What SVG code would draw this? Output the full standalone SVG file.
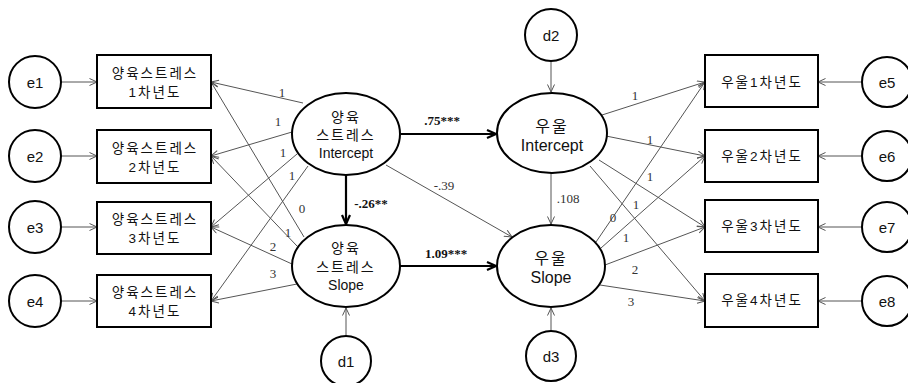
<svg xmlns="http://www.w3.org/2000/svg" width="908" height="383" viewBox="0 0 908 383">
  <style>
    .box { fill: #fff; stroke: #000; stroke-width: 2; }
    .circ { fill: #fff; stroke: #000; stroke-width: 2; }
    .lbl { font-family: "Liberation Sans", "Noto Sans CJK KR", sans-serif; font-size: 13.5px; fill: #111; text-anchor: middle; dominant-baseline: central; }
    .ko { letter-spacing: 2px; }
    .mid { font-size: 14px; }
    .big { font-size: 15px; }
    .bigger { font-size: 16px; }
    .thin { stroke: #555; stroke-width: 1; fill: none; marker-end: url(#arrThin); }
    .thick { stroke: #000; stroke-width: 2.2; fill: none; marker-end: url(#arrThick); }
    .num { font-family: "Liberation Serif", serif; font-size: 13px; fill: #333; text-anchor: middle; dominant-baseline: central; }
    .bold { font-weight: bold; fill: #111; }
  </style>
  <defs>
    <marker id="arrThin" markerUnits="userSpaceOnUse" markerWidth="10" markerHeight="10" refX="8" refY="4" orient="auto">
      <path d="M0.5,0.5 L8,4 L0.5,7.5" fill="none" stroke="#555" stroke-width="1"/>
    </marker>
    <marker id="arrThick" markerUnits="userSpaceOnUse" markerWidth="14" markerHeight="14" refX="10" refY="5" orient="auto">
      <path d="M1,1 L10,5 L1,9" fill="none" stroke="#000" stroke-width="2.2"/>
    </marker>
  </defs>

  <!-- connectors -->
  <g id="connectors">
    <!-- error terms to indicators -->
    <line class="thin" x1="61" y1="82" x2="97" y2="82"/>
    <line class="thin" x1="61" y1="156" x2="97" y2="156"/>
    <line class="thin" x1="61" y1="227" x2="97" y2="227"/>
    <line class="thin" x1="61" y1="301" x2="97" y2="301"/>
    <line class="thin" x1="862" y1="82" x2="818" y2="82"/>
    <line class="thin" x1="862" y1="156" x2="818" y2="156"/>
    <line class="thin" x1="862" y1="227" x2="818" y2="227"/>
    <line class="thin" x1="862" y1="301" x2="818" y2="301"/>

    <!-- left intercept loadings -->
    <line class="thin" x1="303" y1="103" x2="211" y2="82"/>
    <line class="thin" x1="292" y1="132" x2="211" y2="156"/>
    <line class="thin" x1="297" y1="154" x2="211" y2="227"/>
    <line class="thin" x1="308" y1="166" x2="211" y2="301"/>
    <!-- left slope loadings -->
    <line class="thin" x1="304" y1="237" x2="211" y2="82"/>
    <line class="thin" x1="297" y1="246" x2="211" y2="156"/>
    <line class="thin" x1="292" y1="264" x2="211" y2="227"/>
    <line class="thin" x1="297" y1="284" x2="211" y2="301"/>

    <!-- right intercept loadings -->
    <line class="thin" x1="602" y1="115" x2="705" y2="82"/>
    <line class="thin" x1="606" y1="136" x2="705" y2="156"/>
    <line class="thin" x1="599" y1="160" x2="705" y2="227"/>
    <line class="thin" x1="590" y1="166" x2="705" y2="301"/>
    <!-- right slope loadings -->
    <line class="thin" x1="596" y1="242" x2="705" y2="82"/>
    <line class="thin" x1="601" y1="248" x2="705" y2="156"/>
    <line class="thin" x1="605" y1="265" x2="705" y2="227"/>
    <line class="thin" x1="600" y1="285" x2="705" y2="301"/>

    <!-- structural paths -->
    <line class="thick" x1="401" y1="134" x2="496" y2="134"/>
    <line class="thick" x1="400" y1="266" x2="496" y2="266"/>
    <line class="thick" x1="346" y1="175" x2="346" y2="224"/>
    <line class="thin" x1="386" y1="165" x2="512" y2="237"/>
    <line class="thin" x1="551" y1="173" x2="551" y2="224"/>

    <!-- disturbances -->
    <line class="thin" x1="551" y1="61" x2="551" y2="92"/>
    <line class="thin" x1="346" y1="336" x2="346" y2="308"/>
    <line class="thin" x1="551" y1="331" x2="551" y2="308"/>

    <!-- path coefficients -->
    <text class="num" x="282" y="92">1</text>
    <text class="num" x="278" y="121">1</text>
    <text class="num" x="283" y="152">1</text>
    <text class="num" x="292" y="175">1</text>
    <text class="num" x="302" y="208">0</text>
    <text class="num" x="288" y="232">1</text>
    <text class="num" x="273" y="246">2</text>
    <text class="num" x="273" y="273">3</text>

    <text class="num" x="635" y="95">1</text>
    <text class="num" x="650" y="139">1</text>
    <text class="num" x="650" y="176">1</text>
    <text class="num" x="636" y="204">1</text>
    <text class="num" x="613" y="217">0</text>
    <text class="num" x="626" y="237">1</text>
    <text class="num" x="635" y="269">2</text>
    <text class="num" x="631" y="301">3</text>

    <text class="num bold" x="442" y="120">.75***</text>
    <text class="num bold" x="446" y="253">1.09***</text>
    <text class="num bold" x="371" y="203">-.26**</text>
    <text class="num" x="444" y="185">-.39</text>
    <text class="num" x="568" y="198">.108</text>
  </g>

  <!-- error terms -->
  <g id="e1"><circle class="circ" cx="35" cy="82" r="26"/><text class="lbl big" x="35" y="82">e1</text></g>
  <g id="e2"><circle class="circ" cx="35" cy="156" r="26"/><text class="lbl big" x="35" y="156">e2</text></g>
  <g id="e3"><circle class="circ" cx="35" cy="227" r="26"/><text class="lbl big" x="35" y="227">e3</text></g>
  <g id="e4"><circle class="circ" cx="35" cy="301" r="26"/><text class="lbl big" x="35" y="301">e4</text></g>
  <g id="e5"><circle class="circ" cx="887" cy="82" r="25"/><text class="lbl big" x="887" y="82">e5</text></g>
  <g id="e6"><circle class="circ" cx="887" cy="156" r="25"/><text class="lbl big" x="887" y="156">e6</text></g>
  <g id="e7"><circle class="circ" cx="887" cy="227" r="25"/><text class="lbl big" x="887" y="227">e7</text></g>
  <g id="e8"><circle class="circ" cx="887" cy="301" r="25"/><text class="lbl big" x="887" y="301">e8</text></g>

  <!-- parenting stress indicators -->
  <g id="ps1"><rect class="box" x="97" y="55" width="114" height="53"/>
    <text class="lbl ko" x="155" y="73">양육스트레스</text><text class="lbl ko" x="155" y="92">1차년도</text></g>
  <g id="ps2"><rect class="box" x="97" y="130" width="114" height="53"/>
    <text class="lbl ko" x="155" y="148">양육스트레스</text><text class="lbl ko" x="155" y="167">2차년도</text></g>
  <g id="ps3"><rect class="box" x="97" y="202" width="114" height="52"/>
    <text class="lbl ko" x="155" y="219">양육스트레스</text><text class="lbl ko" x="155" y="238">3차년도</text></g>
  <g id="ps4"><rect class="box" x="97" y="275" width="114" height="52"/>
    <text class="lbl ko" x="155" y="292">양육스트레스</text><text class="lbl ko" x="155" y="311">4차년도</text></g>

  <!-- depression indicators -->
  <g id="dep1"><rect class="box" x="705" y="55" width="113" height="52"/><text class="lbl ko" x="762" y="82">우울1차년도</text></g>
  <g id="dep2"><rect class="box" x="705" y="130" width="113" height="52"/><text class="lbl ko" x="762" y="156">우울2차년도</text></g>
  <g id="dep3"><rect class="box" x="705" y="200" width="113" height="52"/><text class="lbl ko" x="762" y="226">우울3차년도</text></g>
  <g id="dep4"><rect class="box" x="705" y="274" width="113" height="53"/><text class="lbl ko" x="762" y="300">우울4차년도</text></g>

  <!-- latent growth factors -->
  <g id="psInt"><ellipse class="circ" cx="346" cy="134" rx="54" ry="41"/>
    <text class="lbl ko mid" x="346" y="117">양육</text><text class="lbl ko mid" x="346" y="135">스트레스</text><text class="lbl mid" x="346" y="153">Intercept</text></g>
  <g id="psSlope"><ellipse class="circ" cx="346" cy="266" rx="54" ry="41"/>
    <text class="lbl ko mid" x="346" y="248">양육</text><text class="lbl ko mid" x="346" y="267">스트레스</text><text class="lbl mid" x="346" y="285">Slope</text></g>
  <g id="depInt"><ellipse class="circ" cx="552" cy="133" rx="55" ry="40"/>
    <text class="lbl ko bigger" x="552" y="126">우울</text><text class="lbl bigger" x="552" y="145">Intercept</text></g>
  <g id="depSlope"><ellipse class="circ" cx="551" cy="266" rx="54" ry="41"/>
    <text class="lbl ko bigger" x="551" y="258">우울</text><text class="lbl bigger" x="551" y="277">Slope</text></g>

  <!-- disturbances -->
  <g id="d1"><circle class="circ" cx="346" cy="361" r="25"/><text class="lbl big" x="346" y="361">d1</text></g>
  <g id="d2"><circle class="circ" cx="551" cy="35" r="26"/><text class="lbl big" x="551" y="35">d2</text></g>
  <g id="d3"><circle class="circ" cx="551" cy="356" r="25"/><text class="lbl big" x="551" y="356">d3</text></g>
</svg>
